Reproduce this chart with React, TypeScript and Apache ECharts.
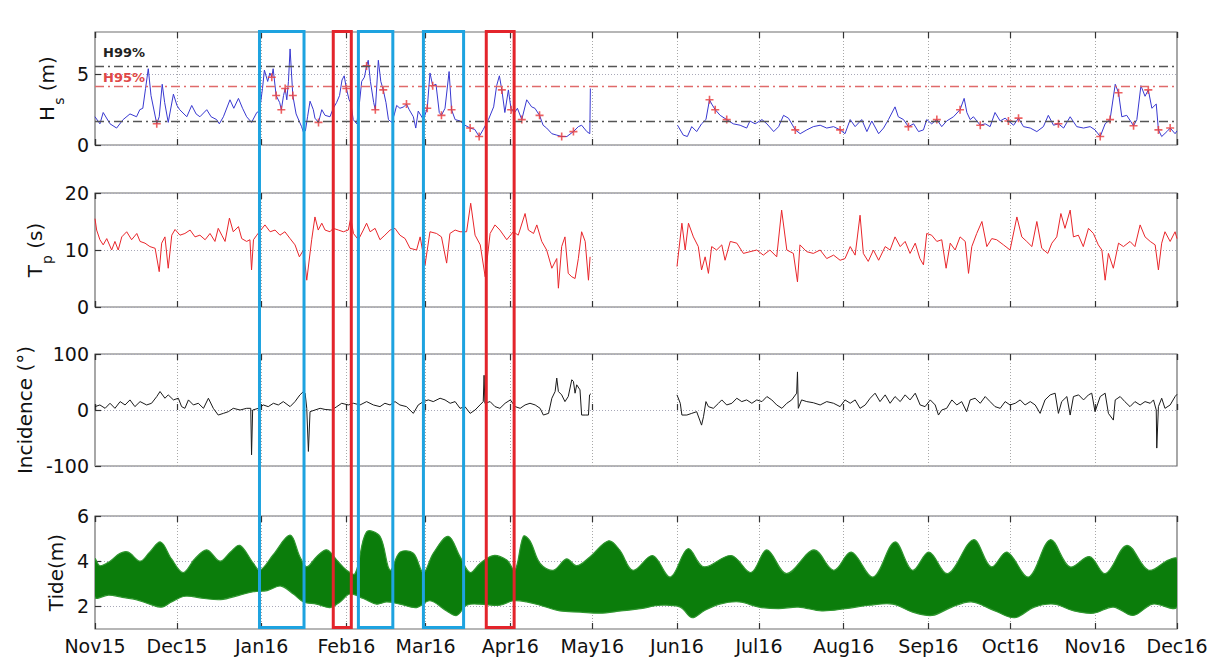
import { useEffect, useRef } from 'react';
import * as echarts from 'echarts';

const DAY_MS = 86400000;
const START_DATE = '2015-11-01';
const END_DATE = '2016-12-01';

const xTickDates = ['2015-11-01', '2015-12-01', '2016-01-01', '2016-02-01', '2016-03-01', '2016-04-01', '2016-05-01',
  '2016-06-01', '2016-07-01', '2016-08-01', '2016-09-01', '2016-10-01', '2016-11-01', '2016-12-01'];
const xTickLabels = ['Nov15', 'Dec15', 'Jan16', 'Feb16', 'Mar16', 'Apr16', 'May16', 'Jun16', 'Jul16', 'Aug16', 'Sep16', 'Oct16', 'Nov16', 'Dec16'];

const hsTicks = [0, 5];
const tpTicks = [0, 10, 20];
const incTicks = [-100, 0, 100];
const tideTicks = [2, 4, 6];

// thresholds of Hs: value, label, colour
const hsThresholdValues = [5.55, 4.15, 1.7];
const hsThresholdNames = ['H99%', 'H95%', ''];
const hsThresholdColors = ['#555555', '#e06a6a', '#555555'];

// [day since 1 Nov 2015, value]; null = data gap
const hsPoints: [number, number | null][] = [
  [0, 2.0], [1.8, 1.5], [3, 2.3], [5.5, 1.5], [7.9, 1.2], [10.3, 1.8], [12.8, 2.2], [15.2, 2.0], [16.4, 2.5], [17.5, 2.6],
  [18.5, 4.0], [19.5, 5.4], [20.5, 3.5], [22.6, 1.5], [23.5, 2.0], [24.6, 4.3], [25.5, 3.0], [26.8, 1.6], [28.7, 3.6], [30, 2.8],
  [31, 2.5], [33.6, 2.0], [35.4, 2.8], [37, 2.2], [38.4, 2.0], [40.9, 2.5], [42.5, 2.0], [44.5, 1.8], [45.5, 1.5], [47, 2.0],
  [49.4, 3.2], [50.8, 2.6], [52.5, 3.3], [54, 2.6], [55.5, 2.0], [57.3, 1.6], [59.2, 2.3], [60.2, 2.4], [61.3, 4.0], [62, 5.3],
  [63.2, 4.5], [64, 5.1], [64.7, 4.8], [65.2, 5.4], [66.3, 3.5], [67.6, 3.0], [68.2, 2.5], [69, 3.5], [69.6, 4.0], [70.2, 3.2],
  [70.8, 4.5], [71.4, 6.8], [72.4, 3.5], [73.6, 2.2], [74.7, 1.7], [75.6, 1.3], [76.3, 0.9], [77, 1.0], [77.8, 2.0], [78.7, 3.1],
  [79.9, 2.5], [80.5, 1.9], [81.8, 1.6], [83, 2.5], [84.2, 2.1], [86, 2.0], [87.2, 2.6], [88.4, 3.0], [89.5, 3.5], [90.4, 4.6],
  [91.2, 4.9], [92, 4.0], [93, 3.2], [93.6, 3.0], [94.5, 1.8], [95.8, 1.5], [96.8, 3.0], [97.6, 4.5], [98.6, 4.8], [99.4, 5.6],
  [100, 6.0], [100.8, 4.5], [102, 3.0], [102.6, 2.5], [103.7, 6.0], [104.6, 4.5], [105.5, 3.9], [106.5, 3.0], [107.4, 1.8], [108.6, 1.6],
  [109.6, 2.2], [110.4, 2.8], [111.6, 2.6], [113, 2.7], [114, 2.9], [115, 2.5], [116.5, 2.0], [117.4, 1.2], [118.3, 2.4], [120.2, 1.8],
  [121.6, 2.6], [122.6, 5.1], [123.6, 4.2], [124.8, 4.3], [126, 2.3], [126.8, 2.1], [128.1, 2.6], [129.6, 5.2], [130.5, 2.5], [131.8, 1.8],
  [133.6, 1.7], [135.4, 1.4], [137.3, 1.2], [139, 1.1], [140.6, 0.6], [142.1, 1.1], [144, 1.8], [145.9, 2.7], [147, 4.2], [148, 4.9],
  [148.9, 3.9], [150, 2.3], [151.3, 3.9], [152.3, 2.5], [153.6, 2.3], [154.6, 2.6], [156.2, 1.8], [158, 3.2], [159.8, 2.7], [161, 2.6],
  [162.7, 2.1], [164, 1.4], [165.3, 1.2], [167.2, 0.8], [169, 0.7], [170.8, 0.6], [172.7, 0.6], [175.1, 0.95], [176.9, 1.3], [178.1, 1.4],
  [180, 0.95], [181.1, 0.8], [181.3, 4.0], [197, null],
  [213.2, 1.4], [215.3, 0.7], [216.8, 0.6], [218.4, 1.3], [220.2, 0.95], [222, 1.5], [223.6, 1.8], [224.9, 3.2], [225.7, 2.9], [227, 2.5],
  [228.8, 2.1], [231.2, 1.8], [233.6, 1.5], [236.1, 1.4], [238.5, 1.2], [239.7, 1.7], [241.6, 1.5], [244.1, 1.8], [245.9, 1.5], [248.4, 0.95],
  [250.2, 1.3], [252, 2.1], [253.8, 1.9], [256.3, 1.07], [258.1, 0.8], [260.5, 1.07], [262.9, 1.3], [265.4, 1.4], [267.8, 1.2], [270.3, 1.3],
  [272.7, 1.07], [274.5, 0.8], [276.4, 1.8], [278.2, 1.3], [280.6, 1.8], [282.5, 0.95], [284.3, 1.7], [286.8, 0.8], [288.6, 1.2], [290.4, 1.8],
  [292.8, 2.7], [294, 2.0], [295.9, 1.8], [297.7, 1.3], [299.6, 1.5], [301.4, 0.95], [303.2, 1.07], [304.4, 1.8], [306.2, 1.5], [308.1, 1.8],
  [309.9, 1.3], [311.7, 1.7], [314.2, 2.0], [316.6, 2.5], [318.1, 3.3], [319.1, 2.3], [320.3, 1.8], [321.5, 2.0], [324, 1.4], [325.8, 1.5],
  [327.6, 1.3], [329.4, 2.3], [331.3, 1.7], [333.1, 1.9], [334.3, 1.7], [336.2, 1.4], [338, 1.9], [339.8, 1.3], [342.3, 1.2], [344.7, 0.95],
  [347.1, 1.3], [348.9, 2.1], [350.8, 1.4], [352.6, 1.5], [354.5, 1.2], [356.9, 2.0], [359.3, 1.3], [361.8, 1.2], [364.2, 1.3], [366, 1.07],
  [367.9, 0.6], [369.7, 1.5], [371.5, 1.8], [373.4, 4.3], [374.6, 3.7], [375.8, 2.0], [377.6, 2.1], [380.1, 1.36], [381.3, 1.8], [382.8, 4.2],
  [384.3, 3.45], [385.5, 3.9], [386.8, 2.6], [388.4, 2.9], [389.2, 1.07], [390.4, 0.6], [392.3, 0.95], [393.5, 1.2], [395.3, 0.8], [396, 1.0],
];

const hsMarkerPoints: [number, number][] = [
  [22.6, 1.5], [64.7, 4.8], [66.3, 3.5], [68.2, 2.5], [69.6, 4.0], [72.4, 3.5], [81.8, 1.6], [92, 4.0], [99.4, 5.6], [102.6, 2.5],
  [105.5, 3.9], [114, 2.9], [121.6, 2.6], [123.6, 4.2], [126.8, 2.1], [130.5, 2.5], [137.3, 1.2], [140.6, 0.6], [148.9, 3.9], [152.3, 2.5],
  [156.2, 1.8], [162.7, 2.1], [170.8, 0.6], [175.1, 0.95], [224.9, 3.2], [227, 2.5], [231.2, 1.8], [256.3, 1.07], [272.7, 1.07], [297.7, 1.3],
  [308.1, 1.8], [316.6, 2.5], [324, 1.4], [334.3, 1.7], [338, 1.9], [352.6, 1.5], [367.9, 0.6], [371.5, 1.8], [374.6, 3.7], [380.1, 1.36],
  [385.5, 3.9], [389.2, 1.07], [393.5, 1.2],
];

const tpPoints: [number, number | null][] = [
  [0, 15.5], [0.6, 13.5], [1.8, 11.8], [3, 10.9], [4.3, 12], [6.1, 10], [7.3, 11.5], [8.5, 10], [9.8, 12.3], [11.6, 13.2],
  [13.4, 11.8], [15.3, 12.9], [16.5, 11.5], [18.3, 11.2], [20.1, 10.6], [22, 10.3], [23.5, 6.2], [24.4, 11.2], [25.6, 12.3], [26.8, 6.8],
  [28.1, 12.6], [29.3, 13.6], [31.1, 12.6], [32.9, 12.9], [34.8, 13.5], [36.6, 12.3], [38.4, 12.6], [40.3, 11.8], [42.1, 12.9], [43.9, 11.5],
  [45.1, 13.8], [46.4, 12.6], [47.6, 11.5], [49.2, 15.6], [50.6, 13.2], [52.5, 14.1], [53.7, 12], [55.5, 11.5], [56.7, 11.8], [57.3, 6.5],
  [58, 11.8], [59.2, 12.6], [62.2, 14.4], [64.1, 13.2], [65.9, 13.5], [67.7, 12.6], [69.5, 13.2], [71.4, 12], [73.2, 10.9], [74.8, 8.8],
  [76.3, 10], [77.5, 4.7], [79.3, 11.8], [80.5, 15.8], [81.7, 13.5], [83, 14.7], [84.2, 13.5], [86, 13.2], [87.2, 13.8], [89.1, 13.5],
  [90.9, 13.2], [92.7, 13.5], [93.6, 15.6], [94.6, 12.9], [96.4, 11.8], [98.2, 13.5], [99.4, 14.7], [100.7, 13.2], [102.5, 13.8], [104.3, 11.8],
  [106.1, 12.6], [108, 13.5], [109.8, 13.8], [111.6, 12.6], [113.5, 12], [115.3, 10.3], [117.7, 10], [119, 12.3], [120.8, 7.4], [122.6, 13.2],
  [125, 12.9], [126.8, 12.3], [128.7, 7.7], [129.9, 12.9], [131.8, 13.5], [133.6, 13.2], [136, 13.2], [137.5, 18.2], [139.1, 12.6], [141, 10.9],
  [142.8, 5.3], [144.6, 12.9], [146.4, 14.4], [148.2, 13.5], [150.7, 11.8], [153.1, 13.2], [154.9, 12.6], [157.4, 16.4], [158.6, 13.5], [160.5, 12.9],
  [161.7, 14.4], [163.5, 11.5], [165.3, 10], [167.2, 6.8], [169, 8.5], [169.6, 3.3], [170.8, 10.6], [172, 12.3], [173.2, 5.9], [174.5, 5.3],
  [175.7, 5.0], [176.9, 8.5], [178.1, 13.2], [179.4, 11.5], [180.6, 4.7], [181.2, 8.8], [197, null],
  [213, 7.1], [214.8, 14.7], [216, 10], [217.2, 14.7], [219, 12.3], [220.8, 10.6], [222, 6.5], [223.3, 8.8], [224.5, 5.9], [225.7, 10.6],
  [227.5, 10], [229.4, 10.9], [230.6, 8.2], [232.5, 11.5], [234.9, 11.2], [237.3, 9.4], [239.7, 9.7], [242.2, 10], [244.6, 9.1], [247, 10],
  [249.5, 8.8], [251.3, 17], [253.2, 10], [255.6, 9.4], [257.1, 4.4], [258, 10.9], [260.5, 9.7], [262.9, 9.4], [265.4, 10], [267.8, 8.5],
  [270.3, 9.1], [272.7, 8.2], [274.5, 8.5], [276.4, 10.6], [278.2, 9.1], [280, 16.1], [281.2, 9.4], [283, 8], [284.9, 10], [286.8, 8.2],
  [289.2, 10.6], [291, 10], [292.8, 12.3], [294.7, 10.6], [296.5, 11.5], [298.3, 9.4], [300.2, 11.2], [301.9, 8.5], [303.2, 7.4], [304.4, 12.9],
  [306.2, 12.6], [308.1, 11.5], [309.9, 11.8], [311.5, 6.8], [313, 11.2], [314.8, 10], [316.6, 12.3], [318.5, 11.5], [319.7, 5.9], [320.9, 10.6],
  [322.7, 12.9], [324.6, 15], [326.4, 10.6], [328.2, 12], [330, 11.8], [332.5, 10.9], [334.9, 10], [337.4, 15.8], [339.2, 12.3], [341, 11.5],
  [342.9, 10.6], [344.7, 15], [346.5, 10.3], [348.7, 9.4], [350.2, 11.2], [352, 12.3], [353.5, 16.4], [355, 13.8], [356.9, 17], [358.1, 12.3],
  [359.9, 12.6], [361.7, 10.6], [363.6, 13.8], [365.4, 12.9], [367.2, 10.9], [368.5, 10], [369.7, 4.7], [370.9, 9.4], [372.7, 6.8], [374.6, 11.2],
  [376.4, 10.6], [378.8, 11.5], [380.6, 10.6], [382.5, 14.4], [384.3, 12.3], [386.2, 11.5], [388, 10.9], [389.2, 6.5], [390.4, 11.2], [391.6, 13.2],
  [393.5, 11.5], [395.3, 13.2], [396, 12],
];

const incPoints: [number, number | null][] = [
  [0, 6], [1.8, 9], [3.7, 3], [5.5, 12], [7.3, 3], [9.2, 15], [11, 9], [12.8, 18], [14.6, 6], [16.5, 15],
  [18.9, 9], [20.7, 12], [22.6, 24], [23.8, 33], [25.6, 21], [26.8, 27], [28.7, 18], [30.5, 21], [31.7, 6], [32.9, 3],
  [34.2, 18], [36, 9], [37.8, 12], [39.7, 3], [41.5, 21], [43.3, 3], [45.1, -9], [47, -6], [48.8, -3], [50.6, 3],
  [53.1, 0], [55.5, 3], [57, 3], [57.3, -80], [57.7, 0], [59.8, 3], [61.6, 9], [63.4, 6], [65.3, 12], [67.1, 9],
  [68.9, 15], [71.4, 6], [73.2, 15], [75, 27], [76.3, 33], [76.9, 30], [77.5, 3], [78.1, -74], [78.7, -3], [80.5, 0],
  [82.4, 3], [84.2, 1], [86.6, 0], [88.5, 6], [90.3, 12], [92.7, 9], [94.6, 12], [97, 9], [99.4, 15], [101.9, 9],
  [104.3, 6], [106.1, 12], [108, 9], [109.8, 15], [111.6, 9], [114, 6], [116.5, -6], [118.3, 9], [120.2, 15], [122, 18],
  [123.8, 15], [126.3, 21], [128.1, 18], [130, 12], [131.8, 15], [133.6, 3], [135.4, 6], [137.3, -6], [139.1, 0], [140.9, 9],
  [142.1, 15], [142.4, 62], [142.7, 12], [144.6, 15], [146.4, 6], [148.2, 3], [150.1, 12], [152, 18], [153.8, 6], [155.6, 3],
  [157.4, 9], [159.2, 12], [161.1, 9], [162.9, 3], [164.1, -9], [166, -6], [167.2, 21], [168.4, 33], [169, 57], [169.6, 33],
  [170.8, 27], [172, 15], [173.2, 24], [174.5, 54], [175.1, 51], [175.7, 30], [176.3, 45], [177.5, 36], [178.1, -9], [179.4, -9],
  [180.6, -9], [181, 27], [181.5, 29], [197, null],
  [213, 27], [214.2, 12], [214.8, -9], [216.6, -9], [218.4, -6], [220.2, -3], [222, -27], [222.7, -12], [223.6, 15], [224.5, 6],
  [226.3, 3], [228.2, 12], [229.4, 18], [231.2, 9], [233.1, 12], [234.9, 21], [236.7, 15], [238.5, 18], [240.4, 12], [242.2, 18],
  [244.1, 15], [245.9, 24], [247.7, 18], [249.5, 9], [251.4, 3], [253.2, 12], [255, 18], [256.8, 30], [257.1, 68], [257.4, 3],
  [258.6, 18], [260.5, 15], [262.9, 13], [265.4, 9], [267.8, 15], [270.3, 12], [272.7, 6], [274.5, 18], [276.4, 12], [278.2, 18],
  [280, 3], [281.9, 9], [283.7, 21], [285.5, 30], [287.3, 15], [289.2, 27], [291, 12], [292.8, 24], [294.7, 15], [296.5, 27],
  [298.3, 18], [300.2, 30], [302, 9], [303.8, 6], [305.7, 18], [307.5, 9], [308.7, -9], [309.9, 0], [311.7, 3], [313.6, 18],
  [315.4, 9], [317.2, 15], [319, -3], [320.3, 18], [322.1, 21], [324, 12], [325.8, 24], [327.6, 15], [329.4, 6], [331.3, 3],
  [333.1, 15], [334.9, 9], [336.8, 12], [338.6, 18], [340.4, 9], [342.3, 15], [344.1, 9], [345.9, -6], [347.7, 18], [349.6, 27],
  [351.4, 30], [352.6, -6], [353.8, 15], [355.7, 24], [356.9, -9], [358.1, 24], [360, 27], [361.8, 18], [363.6, 27], [364.8, 30],
  [366, -3], [367.9, 24], [369.7, 30], [370.9, -6], [372.7, -18], [373.4, 18], [375.2, 24], [376.9, 15], [378.8, 6], [380.6, 15],
  [382.5, 9], [384.3, 15], [386.2, 12], [387.4, 18], [388.4, 0], [388.6, -68], [389.2, 6], [390.4, 21], [391.6, 3], [393.5, 9],
  [395.3, 24], [396, 28],
];

// tide envelope: upper (high waters) and lower (low waters)
const tideHigh: [number, number][] = [
  [0, 4.1], [1.8, 3.8], [5.5, 4.0], [9.2, 4.35], [12.2, 4.4], [16.5, 4.0], [20, 4.4], [24, 4.85], [28, 4.1], [32.3, 3.5],
  [36.5, 4.1], [40.9, 4.5], [45.8, 4.0], [49.5, 4.4], [53, 4.7], [58, 3.9], [60.4, 3.6], [65.3, 4.3], [71.4, 5.15], [75, 4.2],
  [77.5, 3.75], [81.1, 4.2], [84.8, 4.5], [88.5, 4.05], [92.1, 3.6], [95.2, 3.45], [99.4, 5.3], [104.3, 5.1], [108, 3.6], [111.6, 4.4],
  [116.5, 4.35], [120.2, 3.5], [123.8, 4.35], [129.3, 5.1], [133.6, 4.2], [137.3, 3.5], [140.9, 3.9], [145.8, 4.25], [150.7, 4.05], [153.7, 3.6],
  [156.8, 5.1], [159.2, 4.9], [162.9, 3.9], [167.7, 3.6], [172.6, 4.1], [176.3, 3.8], [181.2, 4.2], [188, 4.9], [192, 4.5], [196.9, 3.6],
  [204.1, 4.25], [210.6, 3.3], [217, 4.55], [222.8, 3.75], [232.9, 4.25], [240.1, 3.5], [245.9, 4.5], [253.1, 3.45], [263.1, 4.5], [270.4, 3.6],
  [276.8, 4.4], [284.8, 3.3], [292.7, 4.85], [299.2, 3.6], [305.2, 4.4], [312.1, 3.45], [321.5, 4.95], [328, 3.75], [333.8, 4.4], [341.7, 3.3],
  [349.6, 4.95], [356.8, 3.75], [364, 4.2], [369.8, 3.45], [377.7, 4.7], [385.6, 3.6], [392.8, 4.05], [396, 4.1],
];
const tideLow: [number, number][] = [
  [0, 2.4], [5, 2.5], [10, 2.4], [15, 2.3], [20, 2.1], [24.5, 1.97], [28, 2.2], [33, 2.45], [40, 2.35], [46, 2.3],
  [53, 2.5], [58, 2.65], [63, 2.7], [68, 2.9], [72.6, 2.55], [76.3, 2.2], [81.1, 2.1], [86, 1.95], [89.7, 2.2], [93.3, 2.55],
  [98.2, 2.35], [103.1, 2.1], [106.8, 2.2], [111.6, 2.1], [117.7, 1.95], [122.6, 2.25], [128.7, 1.8], [132.4, 1.6], [136, 2.05], [140.9, 2.1],
  [148.2, 2.05], [153.1, 2.25], [158, 2.2], [162.9, 2.05], [170.2, 1.8], [177.5, 1.75], [184.8, 1.7], [192.5, 1.8], [199.7, 1.9], [207, 2.05],
  [214.2, 1.97], [218.5, 1.5], [222.8, 1.8], [228.6, 2.1], [235.8, 2.2], [243, 1.97], [250.2, 1.9], [257.4, 1.97], [266, 1.8], [274.7, 1.9],
  [283.3, 2.05], [292, 2.1], [299.2, 1.75], [306.4, 1.6], [313.6, 1.97], [320.8, 2.2], [329.4, 1.8], [336.6, 1.5], [343.8, 1.97], [351, 2.1],
  [358.3, 1.8], [365.5, 1.7], [372.7, 1.97], [379.9, 1.6], [387.1, 2.1], [396, 1.97],
];

// highlighted events: [start day, end day]
const cyanEvents: [number, number][] = [[60.2, 76.5], [96.4, 109], [120.2, 134.9]];
const redEvents: [number, number][] = [[87.2, 93.8], [143.2, 153.4]];

const FONT = "'DejaVu Sans', sans-serif";

const toTs = (s: string) => Date.parse(s + 'T00:00:00Z');

export default function App() {
  const ref = useRef<HTMLDivElement>(null);

  useEffect(() => {
    document.body.style.margin = '0';
    const chart = echarts.init(ref.current!, null, { renderer: 'svg' });
    const t0 = toTs(START_DATE);
    const t1 = toTs(END_DATE);
    const dayTs = (d: number) => t0 + d * DAY_MS;
    const monthTs = xTickDates.map(toTs);
    const fmt = (v: number) => {
      const i = monthTs.findIndex((m) => Math.abs(m - v) < DAY_MS / 2);
      return i >= 0 ? xTickLabels[i] : '';
    };
    const toSeries = (pts: [number, number | null][]) =>
      pts.map(([d, v]) => [dayTs(d), v === null ? '-' : v]);

    const gridBoxes = [
      { top: 32, height: 113 },
      { top: 193, height: 114 },
      { top: 354, height: 112 },
      { top: 516, height: 113 },
    ];
    const grids = gridBoxes.map((g) => ({
      ...g, left: 95, width: 1082, show: true, borderColor: '#6e6e6e', borderWidth: 1.2,
      backgroundColor: 'transparent', containLabel: false,
    }));

    const xAxes: any[] = [];
    gridBoxes.forEach((_, i) => {
      xAxes.push({
        type: 'time', gridIndex: i, min: t0, max: t1, position: 'bottom',
        splitNumber: 13, minInterval: 28 * DAY_MS, maxInterval: 31 * DAY_MS,
        axisLine: { show: false },
        axisTick: { show: true, inside: true, length: 6, lineStyle: { color: '#333', width: 1.2 } },
        axisLabel: {
          show: i === 3, formatter: fmt, fontSize: 19, fontFamily: FONT, color: '#111',
          margin: 7, showMinLabel: true, showMaxLabel: true, hideOverlap: false,
        },
        splitLine: { show: true, lineStyle: { color: '#a8a8a8', type: [1, 2], width: 1 } },
      });
      xAxes.push({
        type: 'time', gridIndex: i, min: t0, max: t1, position: 'top',
        splitNumber: 13, minInterval: 28 * DAY_MS, maxInterval: 31 * DAY_MS,
        axisLine: { show: false },
        axisTick: { show: true, inside: true, length: 6, lineStyle: { color: '#333', width: 1.2 } },
        axisLabel: { show: false },
        splitLine: { show: false },
      });
    });

    const nameStyle = { fontSize: 20, fontFamily: FONT, color: '#111' };
    const richName = {
      m: { fontSize: 20, fontFamily: FONT, color: '#111', lineHeight: 24, verticalAlign: 'top' },
      s: { fontSize: 14, fontFamily: FONT, color: '#111', lineHeight: 14, padding: [15, 0, 0, 1], verticalAlign: 'top' },
    };
    const yBase = (i: number, min: number, max: number, ticks: number[], name: string, gap: number, rich?: any) => ({
      type: 'value', gridIndex: i, min, max,
      axisLine: { show: false },
      axisTick: { show: true, inside: true, length: 6, customValues: ticks, lineStyle: { color: '#333', width: 1.2 } },
      axisLabel: { customValues: ticks, fontSize: 19, fontFamily: FONT, color: '#111', margin: 6, showMaxLabel: true },
      splitLine: { show: true, lineStyle: { color: '#a8a8b8', type: [1, 2], width: 1 } },
      name, nameLocation: 'middle', nameRotate: 90, nameGap: gap,
      nameTextStyle: rich ? { ...nameStyle, rich } : nameStyle,
    });
    const yAxes = [
      yBase(0, 0, 8, hsTicks, '{m|H}{s|s}{m| (m)}', 33, richName),
      yBase(1, 0, 20, tpTicks, '{m|T}{s|p}{m| (s)}', 35, richName),
      yBase(2, -100, 100, incTicks, 'Incidence (°)', 55),
      yBase(3, 1, 6, tideTicks, 'Tide(m)', 27),
    ];

    const plusPath = 'path://M4,0L6,0L6,4L10,4L10,6L6,6L6,10L4,10L4,6L0,6L0,4L4,4Z';

    const option: any = {
      animation: false,
      useUTC: true,
      backgroundColor: '#ffffff',
      grid: grids,
      xAxis: xAxes,
      yAxis: yAxes,
      series: [
        {
          name: 'Hs', type: 'line', xAxisIndex: 0, yAxisIndex: 0, showSymbol: false, connectNulls: false,
          lineStyle: { color: '#3838d0', width: 1 }, data: toSeries(hsPoints), z: 3,
          markLine: {
            symbol: 'none', silent: true, animation: false,
            data: hsThresholdValues.map((v, k) => ({
              yAxis: v,
              lineStyle: { color: hsThresholdColors[k], type: [9, 4, 2, 4], width: 1.3 },
              label: {
                show: hsThresholdNames[k] !== '', formatter: hsThresholdNames[k], position: 'insideStartTop',
                color: k === 1 ? '#e04848' : '#222', fontWeight: 'bold', fontSize: 13, fontFamily: FONT,
                distance: k === 0 ? [8, 8] : [8, 2],
              },
            })),
          },
        },
        {
          name: 'Hs events', type: 'scatter', xAxisIndex: 0, yAxisIndex: 0, symbol: plusPath, symbolSize: 8,
          itemStyle: { color: '#e83a3a' }, data: hsMarkerPoints.map(([d, v]) => [dayTs(d), v]), z: 4,
        },
        {
          name: 'Tp', type: 'line', xAxisIndex: 2, yAxisIndex: 1, showSymbol: false, connectNulls: false,
          lineStyle: { color: '#e8262b', width: 1 }, data: toSeries(tpPoints),
        },
        {
          name: 'Incidence', type: 'line', xAxisIndex: 4, yAxisIndex: 2, showSymbol: false, connectNulls: false,
          lineStyle: { color: '#1a1a1a', width: 1 }, data: toSeries(incPoints),
        },
        {
          name: 'Tide', type: 'custom', xAxisIndex: 6, yAxisIndex: 3, clip: true,
          data: [[dayTs(tideHigh[0][0]), tideHigh[0][1]]],
          renderItem: (_params: any, api: any) => {
            const up = tideHigh.map(([d, v]) => api.coord([dayTs(d), v]));
            const lo = tideLow.slice().reverse().map(([d, v]) => api.coord([dayTs(d), v]));
            return {
              type: 'group',
              children: [
                {
                  type: 'polygon',
                  shape: { points: up.concat(lo), smooth: 0.35 },
                  style: { fill: '#0b7d0b', stroke: '#2f962f', lineWidth: 1.2 },
                },
              ],
            };
          },
        },
      ],
    };
    chart.setOption(option);

    const yTop = chart.convertToPixel({ yAxisIndex: 0 }, 8) as number;
    const yBot = chart.convertToPixel({ yAxisIndex: 3 }, 1) as number;
    const mkRect = ([s, e]: [number, number], color: string) => {
      const x1 = chart.convertToPixel({ xAxisIndex: 0 }, dayTs(s)) as number;
      const x2 = chart.convertToPixel({ xAxisIndex: 0 }, dayTs(e)) as number;
      return {
        type: 'rect', z: 100, silent: true,
        shape: { x: x1, y: yTop - 0.5, width: x2 - x1, height: yBot - yTop - 1 },
        style: { fill: 'none', stroke: color, lineWidth: 3 },
      };
    };
    chart.setOption({
      graphic: [
        ...cyanEvents.map((ev) => mkRect(ev, '#1ea3e0')),
        ...redEvents.map((ev) => mkRect(ev, '#e3242b')),
      ],
    });

    return () => chart.dispose();
  }, []);

  return <div ref={ref} style={{ width: 1218, height: 657 }} />;
}
